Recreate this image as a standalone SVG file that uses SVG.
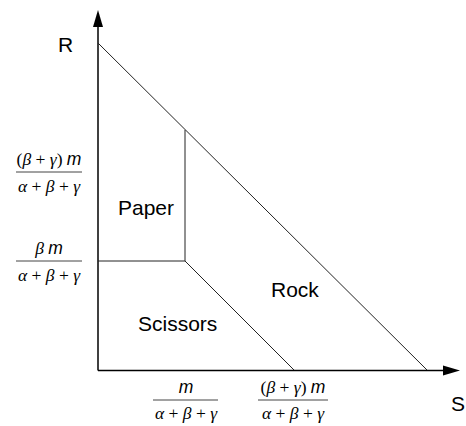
<svg xmlns="http://www.w3.org/2000/svg" width="466" height="426" viewBox="0 0 466 426">
<style>
.ax{stroke:#000;stroke-width:1.5;fill:none}
.ln{stroke:#222;stroke-width:1;fill:none}
.bar{stroke:#444;stroke-width:1;fill:none}
.lbl{font-family:"Liberation Sans",Arial,sans-serif;font-size:21px;fill:#000}
.fr{font-family:"Liberation Serif","Times New Roman",serif;font-size:17.5px;fill:#000;text-anchor:middle}
.g{font-style:italic}
.m{font-family:"Liberation Sans",Arial,sans-serif;font-style:italic}
</style>
<rect width="466" height="426" fill="#fff"/>
<g id="connectors">
<line class="ax" x1="98" y1="370.5" x2="98" y2="24"/>
<polygon points="98,10 93,27 103,27" fill="#000"/>
<line class="ax" x1="98" y1="370.5" x2="446" y2="370.5"/>
<polygon points="460,370.5 443,365.5 443,375.5" fill="#000"/>
<line class="ln" x1="98" y1="43" x2="427" y2="370"/>
<line class="ln" x1="185" y1="130" x2="185" y2="261"/>
<line class="ln" x1="98" y1="261" x2="185" y2="261"/>
<line class="ln" x1="185" y1="261" x2="294" y2="370"/>
</g>
<g id="axis-R"><text class="lbl" x="58" y="52">R</text></g>
<g id="axis-S"><text class="lbl" x="451" y="411">S</text></g>
<g id="region-paper"><text class="lbl" x="118" y="215">Paper</text></g>
<g id="region-rock"><text class="lbl" x="271" y="297">Rock</text></g>
<g id="region-scissors"><text class="lbl" x="138" y="331">Scissors</text></g>
<g id="frac-left-top">
<text class="fr" x="49" y="165">(<tspan class="g">β</tspan> + <tspan class="g">γ</tspan>) <tspan class="m">m</tspan></text>
<line class="bar" x1="16" y1="172" x2="82" y2="172"/>
<text class="fr" x="49" y="192"><tspan class="g">α</tspan> + <tspan class="g">β</tspan> + <tspan class="g">γ</tspan></text>
</g>
<g id="frac-left-mid">
<text class="fr" x="49" y="254"><tspan class="g">β</tspan> <tspan class="m">m</tspan></text>
<line class="bar" x1="16" y1="261" x2="82" y2="261"/>
<text class="fr" x="49" y="281"><tspan class="g">α</tspan> + <tspan class="g">β</tspan> + <tspan class="g">γ</tspan></text>
</g>
<g id="frac-bottom-1">
<text class="fr" x="186" y="393"><tspan class="m">m</tspan></text>
<line class="bar" x1="153" y1="400" x2="218" y2="400"/>
<text class="fr" x="186" y="419"><tspan class="g">α</tspan> + <tspan class="g">β</tspan> + <tspan class="g">γ</tspan></text>
</g>
<g id="frac-bottom-2">
<text class="fr" x="293" y="393">(<tspan class="g">β</tspan> + <tspan class="g">γ</tspan>) <tspan class="m">m</tspan></text>
<line class="bar" x1="258" y1="400" x2="328" y2="400"/>
<text class="fr" x="293" y="419"><tspan class="g">α</tspan> + <tspan class="g">β</tspan> + <tspan class="g">γ</tspan></text>
</g>
</svg>
